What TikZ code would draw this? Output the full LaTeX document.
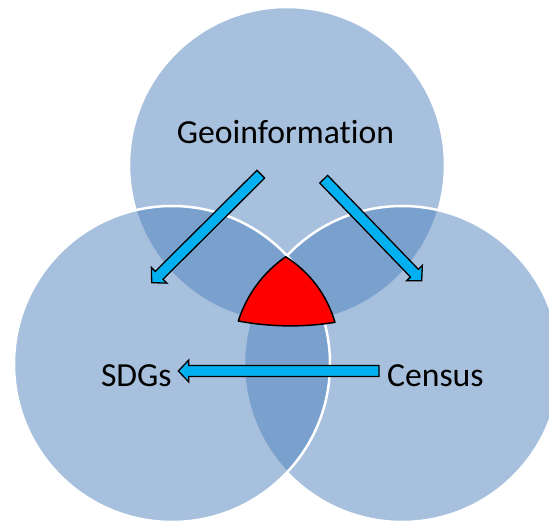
\documentclass[tikz,border=0pt]{standalone}
\usepackage{fontspec}
\setmainfont[Ligatures=NoCommon]{Carlito}
\usetikzlibrary{calc}
\definecolor{circfill}{HTML}{4F81BD}
\definecolor{arrowblue}{HTML}{00B0F0}
\newcommand\drawblockarrow[2]{%
  \coordinate (hb) at ($(#2)!10.5pt!(#1)$);
  \draw[blockarrow] ($(#1)!5.5pt!90:(#2)$) -- ($(hb)!5.5pt!90:(#2)$) -- ($(hb)!11pt!90:(#2)$) -- (#2)
    -- ($(hb)!11pt!-90:(#2)$) -- ($(hb)!5.5pt!-90:(#2)$) -- ($(#1)!5.5pt!-90:(#2)$) -- cycle;}
\begin{document}
\begin{tikzpicture}[x=1pt,y=-1pt,
  setcircle/.style={circle, minimum size=316pt, inner sep=0pt, fill=circfill, fill opacity=0.5, draw=white, draw opacity=1, line width=2.5pt},
  blockarrow/.style={fill=arrowblue, draw=black, line width=1.3pt, line join=miter},
  label/.style={font=\fontsize{33.7}{40}\selectfont, text=black, inner sep=0pt}]
\useasboundingbox (0,0) rectangle (549,522);
\begin{scope}
  \clip (0,0) rectangle (549,522);
  \node[setcircle] (geo) at (287,165) {};
  \node[setcircle] (cen) at (402,364) {};
  \node[setcircle] (sdg) at (172,364) {};
\end{scope}
% red core
\draw[fill=red, draw=black, line width=1.5pt, line join=round]
  (285.7,256.7) .. controls (262.8,272.9) and (247.0,294.4) .. (238.3,321)
  .. controls (270.5,327) and (302.8,327.5) .. (335,322.3)
  .. controls (326.6,294.4) and (310.1,272.6) .. cycle;
% labels
\node[label, anchor=base] (geotext) at (285.5,143.3) {Geoinformation};
\node[label, anchor=base west] (sdgtext) at (100.8,386.7) {SDGs};
\node[label, anchor=base west] (centext) at (386.9,386.7) {Census};
% arrow end points
\coordinate (a1s) at (260.8,174.2);
\coordinate (a1e) at (151.7,282.7);
\coordinate (a2s) at (323.7,179.2);
\coordinate (a2e) at (421.7,280.7);
\coordinate (a3s) at (379,371);
\coordinate (a3e) at (178.3,371);
\drawblockarrow{a1s}{a1e}
\drawblockarrow{a2s}{a2e}
\drawblockarrow{a3s}{a3e}
\end{tikzpicture}
\end{document}
